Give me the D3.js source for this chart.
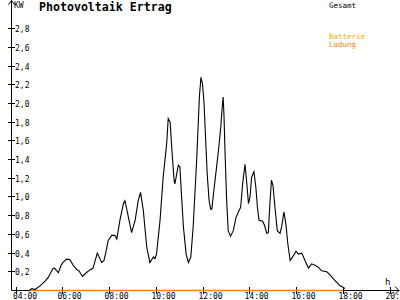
<!DOCTYPE html>
<html>
<head>
<meta charset="utf-8">
<script src="https://cdn.jsdelivr.net/npm/d3@7.9.0/dist/d3.min.js"></script>
<style>
  html, body { margin: 0; padding: 0; background: #fff; }
  svg { display: block; }
  text { font-family: "DejaVu Sans Mono", monospace; }
</style>
</head>
<body>
<svg id="chart" width="400" height="300"></svg>
<script>
// Gesamt (kW) over the day, times as HH:MM
const times = [
  '04:35', '04:42', '04:50', '05:03', '05:16', '05:24', '05:33', '05:37', '05:41', '05:50',
  '05:57', '06:02', '06:11', '06:20', '06:28', '06:37', '06:43', '06:52', '07:03', '07:11',
  '07:19', '07:30', '07:41', '07:47', '07:52', '07:58', '08:07', '08:15', '08:20', '08:28',
  '08:37', '08:41', '08:50', '08:58', '09:07', '09:15', '09:21', '09:28', '09:37', '09:45',
  '09:54', '09:58', '10:02', '10:11', '10:19', '10:28', '10:32', '10:37', '10:41', '10:47',
  '10:49', '10:54', '10:58', '11:02', '11:06', '11:11', '11:18', '11:24', '11:30', '11:36',
  '11:45', '11:52', '11:56', '12:00', '12:04', '12:09', '12:12', '12:17', '12:21', '12:24',
  '12:28', '12:35', '12:41', '12:47', '12:50', '12:53', '12:55', '12:58', '13:02', '13:06',
  '13:12', '13:19', '13:26', '13:32', '13:38', '13:43', '13:49', '13:53', '13:58', '14:02',
  '14:06', '14:12', '14:17', '14:21', '14:25', '14:34', '14:39', '14:45', '14:49', '14:53',
  '14:57', '15:01', '15:06', '15:12', '15:19', '15:23', '15:29', '15:34', '15:39', '15:45',
  '15:53', '16:00', '16:06', '16:15', '16:23', '16:32', '16:40', '16:49', '16:57', '17:06',
  '17:19', '17:27', '17:36', '17:44', '17:53', '18:01', '18:06'
];
const gesamt = [
  0.00, 0.02, 0.01, 0.05, 0.10, 0.14, 0.21, 0.24, 0.235, 0.19,
  0.27, 0.30, 0.335, 0.33, 0.27, 0.225, 0.21, 0.15, 0.195, 0.22,
  0.24, 0.40, 0.30, 0.32, 0.41, 0.535, 0.59, 0.59, 0.55, 0.75,
  0.93, 0.96, 0.78, 0.62, 0.75, 0.96, 1.05, 0.86, 0.46, 0.30,
  0.36, 0.34, 0.39, 0.75, 1.21, 1.57, 1.84, 1.80, 1.53, 1.18,
  1.14, 1.25, 1.34, 1.32, 1.03, 0.68, 0.39, 0.30, 0.36, 0.68,
  1.39, 2.07, 2.28, 2.21, 2.00, 1.53, 1.25, 0.96, 0.87, 0.87,
  1.03, 1.28, 1.50, 1.75, 1.93, 2.07, 1.89, 1.46, 0.96, 0.64,
  0.58, 0.64, 0.78, 0.84, 0.89, 1.14, 1.35, 1.18, 0.93, 1.00,
  1.21, 1.27, 1.10, 0.89, 0.75, 0.74, 0.70, 0.61, 0.62, 0.93,
  1.18, 1.12, 0.89, 0.64, 0.61, 0.68, 0.84, 0.71, 0.50, 0.32,
  0.37, 0.42, 0.39, 0.40, 0.32, 0.24, 0.285, 0.27, 0.25, 0.21,
  0.20, 0.17, 0.125, 0.09, 0.05, 0.035, 0.02
];
// Batterie Ladung stays at zero
const ladungTimes = ['04:35', '18:00'];
const ladung = [0, 0];

const xTicks = [4, 6, 8, 10, 12, 14, 16, 18, 20];
const yTicks = [0.2, 0.4, 0.6, 0.8, 1.0, 1.2, 1.4, 1.6, 1.8, 2.0, 2.2, 2.4, 2.6, 2.8];

const toHours = (s) => {
  const [h, m] = s.split(':').map(Number);
  return h + m / 60;
};
const pad = (n) => String(n).padStart(2, '0');

const svg = d3.select('#chart');
const x = d3.scaleLinear().domain([4, 20]).range([15.5, 389.5]);
const y = d3.scaleLinear().domain([0, 2.8]).range([290.5, 28.7]);
const axisX = 11.5;
const axisY = 290.5;

// axes
svg.append('line')
  .attr('x1', axisX).attr('x2', axisX).attr('y1', 0.5).attr('y2', axisY)
  .attr('stroke', '#000');
svg.append('path')
  .attr('d', `M${axisX - 3},4.5L${axisX},0.5L${axisX + 3},4.5`)
  .attr('fill', 'none').attr('stroke', '#000');
svg.append('line')
  .attr('x1', axisX).attr('x2', 399).attr('y1', axisY).attr('y2', axisY)
  .attr('stroke', '#000');
svg.append('path')
  .attr('d', `M395,${axisY - 4}L399,${axisY}L395,${axisY + 4}`)
  .attr('fill', 'none').attr('stroke', '#000');

// y ticks
yTicks.forEach((v) => {
  const yy = Math.round(y(v) - 0.5) + 0.5;
  svg.append('line')
    .attr('x1', 8).attr('x2', 15).attr('y1', yy).attr('y2', yy)
    .attr('stroke', '#000');
  svg.append('text')
    .attr('x', 15).attr('y', yy + 3)
    .attr('font-size', 8)
    .text(v.toFixed(1).replace('.', ','));
});

// x ticks
xTicks.forEach((h) => {
  const xx = Math.round(x(h)) + 0.5;
  svg.append('line')
    .attr('x1', xx).attr('x2', xx).attr('y1', 287).attr('y2', 294)
    .attr('stroke', '#000');
  svg.append('text')
    .attr('x', Math.max(13, xx - 5)).attr('y', 299)
    .attr('font-size', 8)
    .text(`${pad(h)}:00`);
});

svg.append('text').attr('x', 14).attr('y', 8).attr('font-size', 8).text('KW');
svg.append('text').attr('x', 385).attr('y', 285).attr('font-size', 9).text('h');

svg.append('text')
  .attr('x', 39).attr('y', 11)
  .attr('font-size', 11.6).attr('font-weight', 'bold')
  .text('Photovoltaik Ertrag');

// legend
svg.append('text').attr('x', 329).attr('y', 8).attr('font-size', 7.5).text('Gesamt');
svg.append('text').attr('x', 329).attr('y', 39).attr('font-size', 7.5)
  .attr('fill', '#ffaa00').text('Batterie');
svg.append('text').attr('x', 329).attr('y', 47).attr('font-size', 7.5)
  .attr('fill', '#ff8000').text('Ladung');

// series
const line = d3.line()
  .x((d) => x(d[0]))
  .y((d) => y(d[1]));

svg.append('path')
  .datum(ladungTimes.map((t, i) => [toHours(t), ladung[i]]))
  .attr('d', line)
  .attr('fill', 'none')
  .attr('stroke', '#ff8000')
  .attr('stroke-width', 1.3);

svg.append('path')
  .datum(times.map((t, i) => [toHours(t), gesamt[i]]))
  .attr('d', line)
  .attr('fill', 'none')
  .attr('stroke', '#000')
  .attr('stroke-width', 1.1);
</script>
</body>
</html>
